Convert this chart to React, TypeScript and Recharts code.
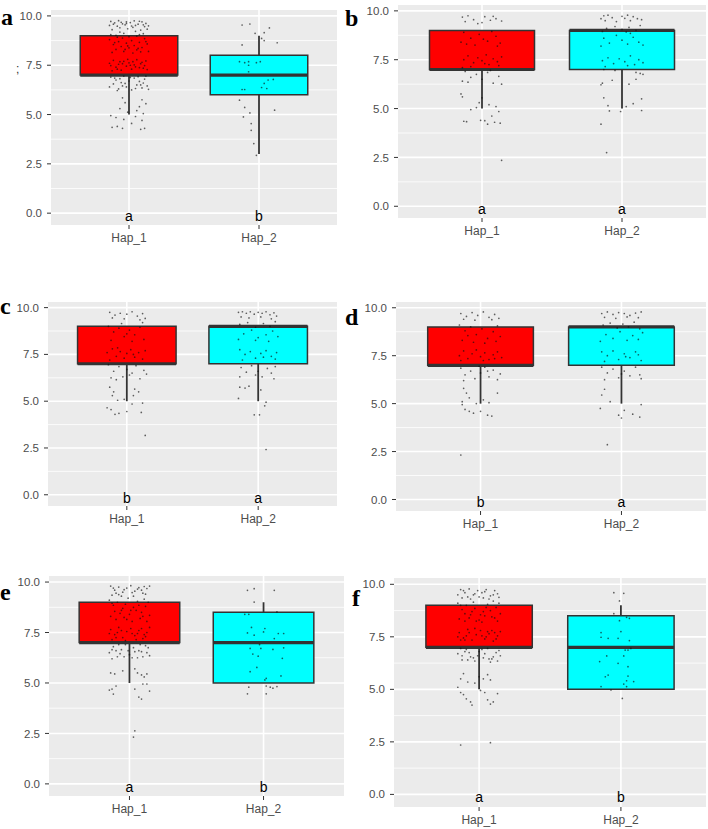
import {
  ComposedChart,
  CartesianGrid,
  XAxis,
  YAxis,
  Scatter,
  ReferenceArea,
  ReferenceLine,
} from "recharts";

// categories and axis ticks
const categories = ["Hap_1", "Hap_2"];
const yTicks = [0, 2.5, 5, 7.5, 10];
const yMinor = [1.25, 3.75, 6.25, 8.75];
const boxFills = ["#FF0000", "#00FFFF"];

// box stats per panel: [lower whisker, q1, median, q3, upper whisker]
const aStats = [[5, 7, 7, 9, 9], [3, 6, 7, 8, 9]];
const bStats = [[5, 7, 7, 9, 9], [5, 7, 9, 9, 9]];
const cStats = [[5, 7, 7, 9, 9], [5, 7, 9, 9, 9]];
const dStats = [[5, 7, 7, 9, 9], [5, 7, 9, 9, 9]];
const eStats = [[5, 7, 7, 9, 9], [5, 5, 7, 8.5, 9]];
const fStats = [[5, 7, 7, 9, 9], [5, 5, 7, 8.5, 9]];

// significance letters under each box
const aLetters = ["a", "b"];
const bLetters = ["a", "a"];
const cLetters = ["b", "a"];
const dLetters = ["b", "a"];
const eLetters = ["a", "b"];
const fLetters = ["a", "b"];

// jittered observations: [offset from category, score]
const aHap1 = [
  [-.14, 9.72], [-.11, 9.65], [-.08, 9.76], [-.05, 9.6], [-.02, 9.7], [.01, 9.66], [.04, 9.75], [.07, 9.58], [.1, 9.7], [.13, 9.62], [.15, 9.5], [-.15, 9.52], [-.09, 9.48], [-.03, 9.55], [.02, 9.49], [.08, 9.73], [.12, 9.46], [-.06, 9.68],
  [-.12, 9.58], [-.02, 9.62], [.05, 9.52], [.11, 9.55], [-.07, 9.4], [.03, 9.42],
  [-.13, 9.3], [-.07, 9.18], [-.01, 9.35], [.05, 9.22], [.11, 9.1], [.14, 9.33], [-.1, 9.02], [0, 8.95], [.08, 9.05], [-.04, 9.12], [-.14, 9.05], [.09, 9.28], [-.09, 8.92], [.06, 8.98],
  [-.15, 8.8], [-.12, 8.55], [-.1, 8.3], [-.08, 8.7], [-.06, 8.45], [-.04, 8.2], [-.02, 8.62], [0, 8.38], [.02, 8.75], [.04, 8.5], [.06, 8.28], [.08, 8.66], [.1, 8.4], [.12, 8.85], [.14, 8.58], [.15, 8.2], [-.13, 8.15], [-.05, 8.88], [.03, 8.12], [.09, 8.18],
  [-.11, 8.65], [-.01, 8.48], [.13, 8.7], [.07, 8.35], [-.03, 8.3],
  [-.15, 7.6], [-.12, 7.75], [-.1, 7.4], [-.08, 7.55], [-.06, 7.25], [-.04, 7.7], [-.02, 7.45], [0, 7.62], [.02, 7.3], [.04, 7.52], [.06, 7.78], [.08, 7.38], [.1, 7.65], [.12, 7.48], [.14, 7.28], [-.13, 7.22], [-.07, 7.68], [.05, 7.42], [.11, 7.35], [-.01, 7.8],
  [-.14, 7.48], [-.09, 7.3], [.01, 7.5], [.09, 7.58], [.13, 7.72], [-.05, 7.58], [.03, 7.68],
  [-.14, 6.9], [-.12, 6.55], [-.1, 6.75], [-.08, 6.3], [-.06, 6.62], [-.04, 6.95], [-.02, 6.4], [0, 6.7], [.02, 6.25], [.04, 6.85], [.06, 6.5], [.08, 6.68], [.1, 6.35], [.12, 6.8], [.14, 6.45], [.15, 6.28], [-.15, 6.4], [-.09, 6.22], [.07, 6.92], [-.03, 6.58],
  [-.11, 6.85], [-.05, 6.45], [.01, 6.88], [.05, 6.32], [.11, 6.6], [.13, 6.95], [-.07, 6.82], [.09, 6.5],
  [-.05, 5.85], [.1, 5.75], [-.03, 5.6], [.13, 5.55], [.08, 5.4], [-.07, 5.3], [.06, 5.2], [-.01, 5.12], [.11, 5.05],
  [-.14, 4.95], [-.1, 4.85], [-.13, 4.35], [-.09, 4.4], [-.04, 4.75], [-.05, 4.3], [.05, 4.9], [.1, 4.7], [.09, 4.25], [.12, 4.3], [.02, 4.55],
];
const aHap2 = [
  [-.13, 9.54], [-.07, 9.59], [-.03, 9.12], [.08, 9.39], [.04, 9.15], [.02, 8.86], [.04, 8.75], [.14, 8.64], [-.13, 8.53],
  [-.15, 7.68], [-.11, 7.63], [-.08, 7.68], [-.08, 7.5], [-.02, 7.63], [.01, 7.68], [-.08, 7.17], [.07, 6.75], [.11, 6.78],
  [.04, 6.58], [.02, 6.37], [.06, 6.32], [-.13, 6.27], [-.11, 6.27], [-.15, 5.73], [-.11, 5.36], [.12, 5.22], [-.07, 5.08],
  [-.12, 4.88], [-.06, 4.54], [-.06, 4.2], [-.04, 3.53], [-.02, 2.93],
];
const bHap1 = [
  [-.14, 9.68], [-.1, 9.75], [-.06, 9.55], [-.12, 9.45], [.02, 9.7], [.06, 9.52], [.1, 9.6], [.14, 9.48], [0, 9.4], [.08, 9.72], [-.03, 9.35],
  [-.13, 8.9], [-.08, 8.6], [-.02, 8.8], [.04, 8.45], [.1, 8.7], [.13, 8.35], [-.11, 8.3], [-.05, 8.25], [.07, 8.95], [.01, 8.55], [.11, 8.2], [-.15, 8.4],
  [-.13, 7.5], [-.1, 7.7], [-.06, 7.35], [-.03, 7.6], [0, 7.45], [.03, 7.75], [.05, 7.25], [.08, 7.55], [.11, 7.4], [.14, 7.65], [-.08, 7.15], [.02, 7.3], [-.14, 7.1], [.12, 7.2],
  [-.12, 6.9], [-.08, 6.6], [-.04, 6.75], [0, 6.5], [.04, 6.85], [.08, 6.3], [.12, 6.65], [-.14, 6.4], [-.1, 6.35], [.06, 6.95], [.14, 6.25],
  [-.15, 5.75], [-.14, 5.6], [0, 5.55], [-.02, 5.3], [.05, 5.2], [.1, 5.1], [-.08, 4.95], [-.04, 5.05], [.12, 4.85],
  [-.13, 4.35], [-.11, 4.33], [.02, 4.38], [-.01, 4.4], [.07, 4.62], [.09, 4.3], [.13, 4.25], [.04, 4.2],
  [.14, 2.35],
];
const bHap2 = [
  [-.13, 9.75], [-.1, 9.78], [-.07, 9.65], [-.12, 9.5], [0, 9.72], [.04, 9.78], [.08, 9.7], [.11, 9.6], [.14, 9.55], [.06, 9.5], [-.04, 9.45], [.02, 9.62], [-.15, 9.6],
  [-.11, 9.1], [-.05, 9.2], [0, 9.05], [.05, 9.15], [.1, 9.0], [.13, 9.25], [-.14, 8.95], [.03, 8.92],
  [-.13, 8.6], [-.09, 8.35], [-.04, 8.75], [0, 8.5], [.04, 8.3], [.08, 8.65], [.12, 8.4], [.15, 8.25], [-.15, 8.2], [.06, 8.85],
  [-.14, 7.45], [-.1, 7.6], [-.06, 7.3], [-.02, 7.55], [.02, 7.4], [.06, 7.7], [.09, 7.25], [.12, 7.5], [.15, 7.35], [-.12, 7.15], [.04, 7.2],
  [-.13, 7.0], [.1, 6.85], [.13, 6.8], [.15, 6.75], [-.05, 6.95],
  [-.14, 6.3], [-.15, 6.22], [-.07, 6.45], [.05, 6.25], [.1, 6.5],
  [-.13, 5.55], [.14, 5.5], [-.1, 5.15], [-.09, 4.88], [-.01, 4.85], [.08, 5.25], [.14, 4.9], [.03, 5.1],
  [-.15, 4.2], [-.11, 2.75],
];
const cHap1 = [
  [-.13, 9.75], [-.09, 9.6], [-.05, 9.7], [-.11, 9.45], [0, 9.65], [.04, 9.78], [.08, 9.55], [.12, 9.68], [.14, 9.42], [-.02, 9.4], [.1, 9.35],
  [-.14, 9.0], [-.1, 8.7], [-.06, 8.9], [-.02, 8.45], [.02, 8.8], [.06, 8.55], [.1, 8.95], [.13, 8.3], [-.12, 8.25], [.04, 8.2], [-.04, 9.15], [.12, 9.2], [0, 8.6],
  [-.15, 7.6], [-.11, 7.8], [-.08, 7.4], [-.05, 7.65], [-.02, 7.3], [0, 7.55], [.03, 7.75], [.06, 7.35], [.09, 7.6], [.12, 7.25], [.14, 7.7], [-.13, 7.2], [.05, 7.5], [-.07, 7.85],
  [-.14, 6.95], [-.1, 6.6], [-.06, 6.85], [-.03, 6.3], [0, 6.7], [.04, 6.5], [.07, 6.9], [.1, 6.2], [.13, 6.65], [-.12, 6.25], [.02, 6.4], [.15, 6.45], [-.08, 6.15],
  [-.13, 5.75], [-.1, 5.5], [-.11, 5.3], [.06, 5.65], [.09, 5.5], [.05, 5.3], [-.07, 5.05],
  [-.15, 4.65], [-.12, 4.55], [-.09, 4.3], [-.06, 4.35], [0, 4.45], [.04, 4.85], [.11, 4.4], [.12, 4.9], [-.02, 5.1],
  [.14, 3.17],
];
const cHap2 = [
  [-.15, 9.75], [-.12, 9.78], [-.09, 9.7], [-.06, 9.78], [-.03, 9.65], [0, 9.75], [.03, 9.7], [.06, 9.78], [.09, 9.62], [.12, 9.72], [.14, 9.55], [-.13, 9.5], [-.07, 9.45], [.02, 9.5], [.1, 9.4],
  [-.14, 9.1], [-.08, 9.2], [-.02, 8.95], [.04, 9.15], [.09, 9.0], [.13, 9.25], [-.11, 8.6], [-.05, 8.8], [0, 8.4], [.06, 8.55], [.11, 8.75], [.15, 8.45], [-.15, 8.3], [-.02, 8.25], [.08, 8.2],
  [-.14, 7.75], [-.1, 7.5], [-.06, 7.65], [-.02, 7.3], [.02, 7.55], [.06, 7.7], [.1, 7.4], [.13, 7.25], [-.12, 7.2], [.04, 7.35], [.14, 7.6],
  [-.13, 6.8], [-.09, 6.55], [-.05, 6.9], [0, 6.6], [.03, 6.3], [.07, 6.75], [.1, 6.5], [.13, 6.85], [-.14, 6.3], [.12, 6.2], [-.02, 6.4],
  [-.14, 5.75], [-.1, 5.7], [-.07, 5.8], [.02, 5.6],
  [-.15, 5.15], [.06, 4.95], [.05, 4.75],
  [-.03, 4.27], [.01, 4.27],
  [.06, 2.42],
];
const dHap1 = [
  [-.14, 9.7], [-.1, 9.55], [-.06, 9.75], [-.12, 9.4], [-.02, 9.6], [.02, 9.78], [.06, 9.5], [.1, 9.65], [.13, 9.45], [-.04, 9.35], [.08, 9.38],
  [-.15, 9.1], [-.11, 8.8], [-.07, 9.0], [-.03, 8.6], [.01, 8.9], [.05, 8.4], [.09, 8.75], [.12, 9.05], [.14, 8.5], [-.13, 8.3], [-.05, 8.2], [.03, 8.15], [.11, 8.25], [-.09, 8.55],
  [-.15, 7.5], [-.12, 7.75], [-.09, 7.35], [-.06, 7.6], [-.03, 7.8], [0, 7.45], [.03, 7.65], [.06, 7.3], [.09, 7.55], [.12, 7.7], [.15, 7.4], [-.14, 7.25], [.02, 7.25], [.1, 7.35],
  [-.14, 6.85], [-.11, 6.5], [-.07, 6.7], [-.04, 6.3], [0, 6.6], [.03, 6.9], [.06, 6.4], [.09, 6.75], [.12, 6.25], [.14, 6.55], [-.12, 6.2], [.05, 6.7], [-.01, 6.95],
  [-.12, 5.8], [-.1, 5.55], [-.08, 5.3], [-.03, 5.0], [.02, 5.2], [.06, 5.05], [.12, 5.55], [-.13, 5.1],
  [-.11, 4.7], [-.08, 4.6], [-.05, 4.5], [.05, 4.4], [.08, 4.35], [0, 4.6], [-.13, 4.95],
  [-.14, 2.32],
];
const dHap2 = [
  [-.14, 9.7], [-.1, 9.78], [-.06, 9.65], [-.02, 9.75], [.02, 9.7], [.06, 9.6], [.1, 9.72], [.14, 9.78], [-.12, 9.5], [-.04, 9.45], [.04, 9.52], [.12, 9.48],
  [-.13, 9.1], [-.08, 9.2], [-.03, 8.95], [.01, 9.15], [.05, 9.0], [.09, 9.25], [.13, 8.9], [-.11, 8.6], [-.06, 8.4], [-.01, 8.75], [.04, 8.3], [.08, 8.55], [.12, 8.35], [.15, 8.7], [-.15, 8.25],
  [-.14, 7.7], [-.1, 7.5], [-.06, 7.75], [-.02, 7.3], [.02, 7.6], [.06, 7.4], [.1, 7.7], [.14, 7.25], [-.12, 7.2], [.03, 7.45], [.12, 7.55],
  [-.14, 6.9], [-.1, 6.6], [-.06, 6.8], [-.02, 6.35], [.02, 6.7], [.06, 6.45], [.1, 6.9], [.13, 6.5], [-.12, 6.25], [.14, 6.3], [0, 6.55],
  [-.12, 5.75], [-.14, 5.45], [-.08, 5.1],
  [-.15, 4.75], [.02, 4.65], [-.02, 4.4], [0, 4.25], [.08, 4.45], [.13, 4.3], [.14, 4.95],
  [-.1, 2.86],
];
const eHap1 = [
  [-.14, 9.8], [-.11, 9.6], [-.08, 9.75], [-.05, 9.5], [-.02, 9.7], [.01, 9.82], [.04, 9.55], [.07, 9.72], [.1, 9.45], [.13, 9.68], [.15, 9.8], [-.13, 9.35], [-.06, 9.3], [.03, 9.3], [.09, 9.6], [-.1, 9.45], [.12, 9.4],
  [-.12, 9.7], [-.04, 9.62], [.06, 9.65], [.11, 9.78], [-.08, 9.38], [.02, 9.48],
  [-.15, 9.1], [-.12, 8.85], [-.09, 9.0], [-.06, 8.6], [-.03, 8.9], [0, 8.4], [.03, 8.75], [.06, 9.05], [.09, 8.5], [.12, 8.8], [.15, 8.35], [-.14, 8.3], [-.1, 8.15], [-.04, 8.25], [.02, 8.05], [.08, 8.2], [.13, 8.05], [-.07, 8.45], [.05, 8.6], [.11, 9.15], [-.01, 9.2],
  [-.13, 8.95], [.07, 8.85], [-.05, 8.7], [.1, 8.3], [-.11, 8.55], [.01, 8.6], [.14, 9.0], [-.02, 8.15],
  [-.14, 7.65], [-.11, 7.4], [-.08, 7.75], [-.05, 7.25], [-.02, 7.55], [.01, 7.7], [.04, 7.35], [.07, 7.6], [.1, 7.2], [.13, 7.5], [.15, 7.75], [-.13, 7.15], [-.03, 7.1], [.05, 7.15], [.11, 7.4], [-.09, 7.5],
  [-.15, 7.45], [-.06, 7.6], [.02, 7.45], [.09, 7.7], [.12, 7.3], [-.1, 7.25], [.06, 7.45],
  [-.15, 6.5], [-.12, 6.8], [-.09, 6.3], [-.06, 6.65], [-.03, 6.9], [0, 6.4], [.03, 6.75], [.06, 6.25], [.09, 6.55], [.12, 6.85], [.15, 6.35], [-.13, 6.2], [-.01, 6.6], [.08, 6.9], [.13, 6.5], [-.07, 6.45],
  [-.13, 6.65], [-.04, 6.3], [.04, 6.55], [.1, 6.3], [.14, 6.75], [-.08, 6.9], [.02, 6.25], [-.1, 6.6], [.07, 6.6],
  [-.14, 5.5], [-.11, 5.45], [-.05, 5.6], [.04, 5.7], [.06, 5.5], [.09, 5.4], [.11, 5.3], [.13, 5.45],
  [-.15, 4.65], [-.13, 4.7], [-.1, 4.85], [-.12, 4.45], [.04, 4.7], [.07, 4.3], [.09, 4.2], [.13, 4.95], [.15, 4.6], [.1, 4.95],
  [.04, 2.63], [.03, 2.32],
];
const eHap2 = [
  [-.12, 9.59], [-.07, 9.67], [.08, 9.59], [-.07, 9.01], [-.14, 8.4], [-.11, 8.4], [.1, 8.52], [-.09, 7.75], [.01, 7.7],
  [-.12, 7.48], [-.07, 7.37], [0, 7.53], [.11, 7.45], [.15, 7.45], [.08, 7.2], [-.03, 6.9], [-.1, 6.71], [-.02, 6.71],
  [.07, 6.66], [.15, 6.74], [-.08, 6.43], [-.04, 6.33], [.14, 6.22], [-.05, 5.77], [-.1, 5.56], [.02, 5.23], [.01, 5.15],
  [.13, 5.35], [-.11, 4.79], [.02, 4.85], [.05, 4.79], [.07, 4.74], [.1, 4.82], [-.12, 4.46], [.02, 4.46],
];
const fHap1 = [
  [-.13, 9.75], [-.1, 9.6], [-.07, 9.78], [-.04, 9.5], [-.01, 9.7], [.02, 9.6], [.05, 9.75], [.08, 9.45], [.11, 9.7], [.13, 9.55], [-.12, 9.35], [-.06, 9.3], [0, 9.4], [.07, 9.3], [.14, 9.38], [-.15, 9.5],
  [-.11, 9.7], [-.03, 9.55], [.04, 9.65], [.1, 9.5], [-.08, 9.4], [.03, 9.35],
  [-.15, 9.1], [-.12, 8.8], [-.09, 9.0], [-.06, 8.55], [-.03, 8.85], [0, 8.3], [.03, 8.7], [.06, 9.05], [.09, 8.45], [.12, 8.9], [.15, 8.6], [-.14, 8.35], [-.1, 8.25], [-.04, 9.15], [.02, 8.2], [.08, 8.75], [.13, 8.25], [-.07, 8.4], [.04, 8.5], [.1, 9.2],
  [-.13, 9.0], [.05, 8.9], [-.05, 8.7], [.11, 8.4], [-.1, 8.6], [.01, 8.55], [.14, 9.1], [-.02, 8.25],
  [-.14, 7.7], [-.11, 7.45], [-.08, 7.85], [-.05, 7.35], [-.02, 7.6], [.01, 7.8], [.04, 7.4], [.07, 7.65], [.1, 7.3], [.13, 7.55], [.15, 7.75], [-.13, 7.35], [-.03, 7.9], [.05, 7.5], [.11, 7.7], [-.09, 7.55],
  [-.15, 7.5], [-.07, 7.7], [.02, 7.55], [.09, 7.8], [.12, 7.4], [-.1, 7.35], [.06, 7.75],
  [-.15, 6.7], [-.12, 6.4], [-.09, 6.9], [-.06, 6.55], [-.03, 6.35], [0, 6.8], [.03, 6.5], [.06, 6.95], [.09, 6.45], [.12, 6.75], [.15, 6.6], [-.13, 6.95], [-.01, 6.6], [.08, 6.3], [.13, 6.35], [-.07, 6.75],
  [-.12, 6.6], [-.04, 6.5], [.04, 6.7], [.1, 6.55], [.14, 6.85], [-.08, 6.4], [.02, 6.9], [-.1, 6.8], [.07, 6.45],
  [-.11, 5.75], [-.13, 5.5], [-.08, 5.35], [0, 5.6], [.03, 5.5], [.06, 5.7], [.08, 5.45], [-.03, 5.3],
  [-.15, 5.1], [-.13, 4.85], [-.11, 4.75], [-.09, 4.55], [-.06, 4.4], [-.05, 4.25], [.04, 4.85], [.06, 4.5], [.08, 4.3], [.1, 4.4], [.13, 4.8], [.01, 4.95],
  [-.13, 2.35], [.08, 2.46],
];
const fHap2 = [
  [-.05, 9.6], [.02, 9.57], [-.01, 9.21], [-.05, 8.6], [.04, 8.43], [-.01, 8.27], [.06, 8.38], [-.14, 7.7], [0, 7.75],
  [-.14, 7.48], [-.09, 7.43], [-.02, 7.43], [.06, 7.32], [.05, 6.87], [.07, 6.95], [.03, 6.87], [.02, 6.59], [-.1, 6.59],
  [-.15, 6.32], [-.02, 6.24], [.05, 6.08], [-.09, 5.68], [-.11, 5.6], [.05, 5.63], [.04, 5.41], [.09, 5.37], [-.14, 5.13],
  [.02, 5.25], [.04, 5.13], [-.07, 4.97], [.01, 4.57],
];

// where each panel's plot area sits on the page
const LAYOUT = [
  { tag: "a", left: 51, top: 10, w: 286, h: 215, tagX: 1, tagY: 25 },
  { tag: "b", left: 398, top: 5, w: 308, h: 213, tagX: 345, tagY: 26 },
  { tag: "c", left: 48, top: 302, w: 289, h: 204, tagX: 0, tagY: 314 },
  { tag: "d", left: 396, top: 302, w: 310, h: 209, tagX: 345, tagY: 325 },
  { tag: "e", left: 49, top: 576, w: 295, h: 220, tagX: 0, tagY: 600 },
  { tag: "f", left: 394, top: 578, w: 312, h: 229, tagX: 352, tagY: 606 },
];

const PANELS = [
  { stats: aStats, letters: aLetters, groups: [aHap1, aHap2] },
  { stats: bStats, letters: bLetters, groups: [bHap1, bHap2] },
  { stats: cStats, letters: cLetters, groups: [cHap1, cHap2] },
  { stats: dStats, letters: dLetters, groups: [dHap1, dHap2] },
  { stats: eStats, letters: eLetters, groups: [eHap1, eHap2] },
  { stats: fStats, letters: fLetters, groups: [fHap1, fHap2] },
];

const Y_AXIS_W = 46;
const X_AXIS_H = 26;
const HALF_BOX = 0.375;
const DARK = "#333333";
const AXIS_FONT = '"Liberation Sans Narrow", "Liberation Sans", Arial, sans-serif';

function JitterDot(props: any) {
  const { cx, cy } = props;
  if (cx == null || cy == null) return null;
  return <circle cx={cx} cy={cy} r={0.85} fill="#111" fillOpacity={0.65} />;
}

function LetterMark(props: any) {
  const { cx, cy, payload } = props;
  if (cx == null || cy == null) return null;
  return (
    <text x={cx} y={cy + 8} textAnchor="middle" fontSize={14} fill="#000">
      {payload.label}
    </text>
  );
}

function Panel({ index }: { index: number }) {
  const lay = LAYOUT[index];
  const { stats, letters, groups } = PANELS[index];

  const points = groups.flatMap((g, i) =>
    g.map(([dx, y]) => ({ x: i + 1 + dx, y }))
  );
  const letterData = letters.map((label, i) => ({ x: i + 1, y: 0, label }));

  return (
    <div style={{ position: "absolute", left: lay.left - Y_AXIS_W, top: lay.top }}>
      <ComposedChart
        width={lay.w + Y_AXIS_W}
        height={lay.h + X_AXIS_H}
        margin={{ top: 0, right: 0, bottom: 0, left: 0 }}
      >
        <CartesianGrid
          fill="#EBEBEB"
          stroke="#FFFFFF"
          strokeWidth={0.8}
          horizontalValues={yMinor}
          vertical={false}
        />
        <CartesianGrid
          stroke="#FFFFFF"
          strokeWidth={1.6}
          horizontalValues={yTicks}
          verticalValues={[1, 2]}
        />
        <XAxis
          type="number"
          dataKey="x"
          domain={[0.4, 2.6]}
          allowDataOverflow
          ticks={[1, 2]}
          tickFormatter={(v: number) => categories[Math.round(v) - 1]}
          height={X_AXIS_H}
          axisLine={false}
          tickLine={{ stroke: DARK }}
          tickSize={4}
          tickMargin={4}
          tick={{ fill: "#4D4D4D", fontSize: 12, fontFamily: AXIS_FONT }}
          interval={0}
        />
        <YAxis
          type="number"
          dataKey="y"
          domain={[-0.6, 10.3]}
          allowDataOverflow
          ticks={yTicks}
          tickFormatter={(v: number) => v.toFixed(1)}
          width={Y_AXIS_W}
          axisLine={false}
          tickLine={{ stroke: DARK }}
          tickSize={4}
          tickMargin={5}
          tick={{ fill: "#4D4D4D", fontSize: 11.5, fontFamily: AXIS_FONT }}
          interval={0}
        />

        {stats.map(([lo, q1, med, q3, hi], i) => {
          const pos = i + 1;
          return (
            <g key={i}>
              <ReferenceLine
                segment={[{ x: pos, y: lo }, { x: pos, y: q1 }]}
                stroke={DARK}
                strokeWidth={1.8}
              />
              <ReferenceLine
                segment={[{ x: pos, y: q3 }, { x: pos, y: hi }]}
                stroke={DARK}
                strokeWidth={1.8}
              />
              <ReferenceArea
                x1={pos - HALF_BOX}
                x2={pos + HALF_BOX}
                y1={q1}
                y2={q3}
                fill={boxFills[i]}
                fillOpacity={1}
                stroke={DARK}
                strokeWidth={1.5}
              />
              <ReferenceLine
                segment={[{ x: pos - HALF_BOX, y: med }, { x: pos + HALF_BOX, y: med }]}
                stroke={DARK}
                strokeWidth={3.2}
              />
            </g>
          );
        })}

        <Scatter data={points} shape={JitterDot} isAnimationActive={false} />
        <Scatter data={letterData} shape={LetterMark} isAnimationActive={false} />
      </ComposedChart>
    </div>
  );
}

export default function App() {
  return (
    <div
      style={{
        position: "absolute",
        left: 0,
        top: 0,
        width: 708,
        height: 829,
        background: "#fff",
        fontFamily: '"Liberation Sans", Arial, sans-serif',
      }}
    >
      {LAYOUT.map((_, i) => (
        <Panel key={i} index={i} />
      ))}
      <svg
        width={708}
        height={829}
        style={{ position: "absolute", left: 0, top: 0, pointerEvents: "none" }}
      >
        {LAYOUT.map((lay) => (
          <text
            key={lay.tag}
            x={lay.tagX}
            y={lay.tagY}
            fontFamily='"Liberation Serif", "Times New Roman", serif'
            fontWeight="bold"
            fontSize={24}
            fill="#000"
          >
            {lay.tag}
          </text>
        ))}
        <text x={16} y={73} fontSize={12} fill="#333">
          ;
        </text>
      </svg>
    </div>
  );
}
